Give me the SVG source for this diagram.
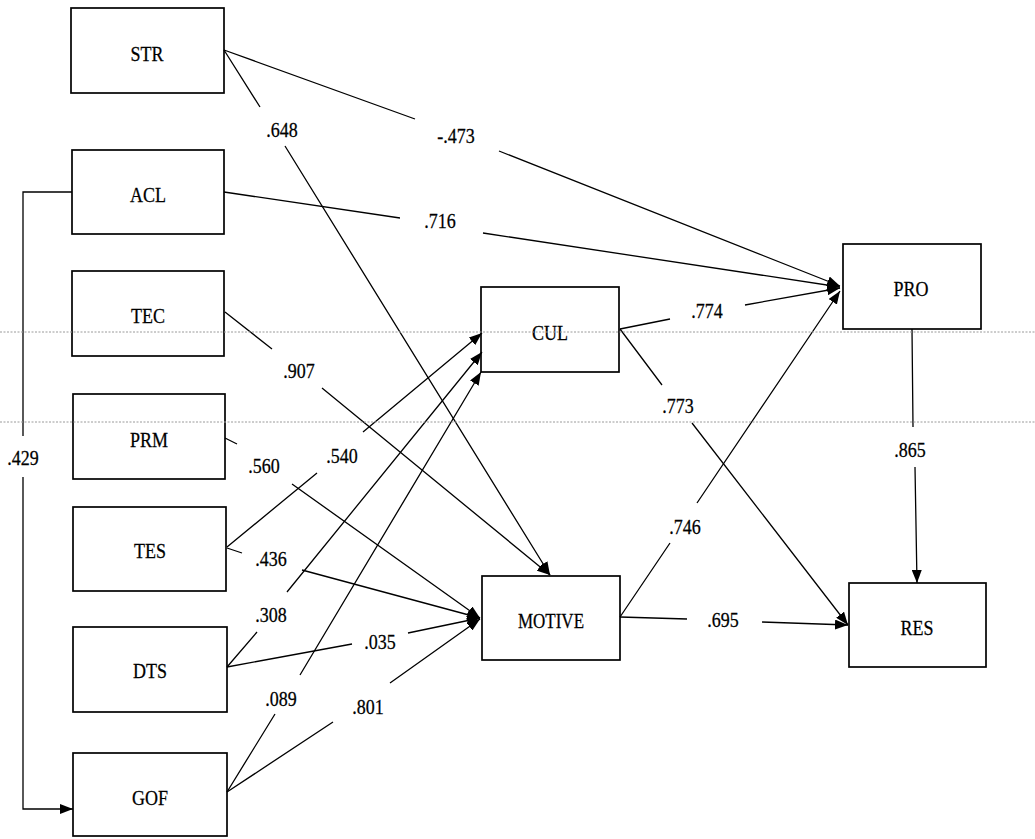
<svg xmlns="http://www.w3.org/2000/svg" width="1035" height="839" viewBox="0 0 1035 839" font-family="'Liberation Serif', 'Times New Roman', Times, serif">
<style>
.box{fill:#fff;stroke:#000;stroke-width:1.7}
text{font-size:20px;fill:#000;stroke:#000;stroke-width:0.25;text-anchor:middle}
.edge{fill:none;stroke:#000;stroke-width:1.3}
.arr{marker-end:url(#ah)}
.scan{stroke:#9a9a9a;stroke-width:1;stroke-dasharray:2,1.5;fill:none}
</style>
<defs>
<marker id="ah" markerUnits="userSpaceOnUse" markerWidth="14" markerHeight="10" refX="13" refY="5" orient="auto">
<path d="M0,0 L13,5 L0,10 z" fill="#000"/>
</marker>
</defs>
<rect width="1035" height="839" fill="#fff"/>
<g id="STR"><rect class="box" x="71" y="8" width="153" height="85"/><text transform="translate(147,61) scale(0.9,1.1)">STR</text></g>
<g id="ACL"><rect class="box" x="72" y="150" width="152" height="84"/><text transform="translate(148,202) scale(0.9,1.1)">ACL</text></g>
<g id="TEC"><rect class="box" x="72" y="271" width="152" height="85"/><text transform="translate(148,323) scale(0.9,1.1)">TEC</text></g>
<g id="PRM"><rect class="box" x="73" y="394" width="152" height="85"/><text transform="translate(149,447) scale(0.9,1.1)">PRM</text></g>
<g id="TES"><rect class="box" x="73" y="507" width="153" height="84"/><text transform="translate(150,558) scale(0.9,1.1)">TES</text></g>
<g id="DTS"><rect class="box" x="73" y="627" width="154" height="85"/><text transform="translate(150,678) scale(0.9,1.1)">DTS</text></g>
<g id="GOF"><rect class="box" x="73" y="753" width="154" height="83"/><text transform="translate(150,805) scale(0.9,1.1)">GOF</text></g>
<g id="CUL"><rect class="box" x="481" y="287" width="138" height="85"/><text transform="translate(550,340) scale(0.9,1.1)">CUL</text></g>
<g id="MOTIVE"><rect class="box" x="482" y="576" width="138" height="84"/><text transform="translate(551,628) scale(0.85,1.1)">MOTIVE</text></g>
<g id="PRO"><rect class="box" x="843" y="244" width="138" height="85"/><text transform="translate(911,296) scale(0.9,1.1)">PRO</text></g>
<g id="RES"><rect class="box" x="849" y="583" width="137" height="84"/><text transform="translate(917,635) scale(0.9,1.1)">RES</text></g>
<g id="connectors">
<path class="edge arr" d="M224,50 L415,119 M499,151 L840,286"/>
<path class="edge arr" d="M224,192 L400,218 M483,233 L840,287"/>
<path class="edge arr" d="M224,50 L260,107 M285,146 L550,575"/>
<path class="edge arr" d="M225,312 L272,349 M322,388 L550,575"/>
<path class="edge arr" d="M225,438 L237,444 M292,484 L480,618"/>
<path class="edge arr" d="M227,547 L317,473 M363,432 L482,333"/>
<path class="edge arr" d="M227,548 L242,553 M302,570 L480,618"/>
<path class="edge arr" d="M227,667 L257,632 M287,592 L482,352"/>
<path class="edge arr" d="M227,667 L352,644 M408,633 L480,618"/>
<path class="edge arr" d="M227,792 L275,714 M300,675 L481,372"/>
<path class="edge arr" d="M227,792 L333,722 M390,683 L480,619"/>
<path class="edge arr" d="M72,192 L23,192 L23,436 M23,477 L23,809 L73,809"/>
<path class="edge arr" d="M620,329 L670,319 M745,305 L840,288"/>
<path class="edge arr" d="M620,329 L662,385 M692,423 L848,625"/>
<path class="edge arr" d="M620,617 L670,543 M697,503 L840,291"/>
<path class="edge arr" d="M620,617 L687,619 M762,622 L848,625"/>
<path class="edge arr" d="M912,329 L913,427 M915,467 L917,583"/>
</g>
<g id="labels">
<text transform="translate(282,137) scale(0.9,1.1)">.648</text>
<text transform="translate(456,143) scale(0.9,1.1)">-.473</text>
<text transform="translate(440,228) scale(0.9,1.1)">.716</text>
<text transform="translate(299,378) scale(0.9,1.1)">.907</text>
<text transform="translate(264,473) scale(0.9,1.1)">.560</text>
<text transform="translate(342,463) scale(0.9,1.1)">.540</text>
<text transform="translate(23,465) scale(0.9,1.1)">.429</text>
<text transform="translate(271,566) scale(0.9,1.1)">.436</text>
<text transform="translate(271,622) scale(0.9,1.1)">.308</text>
<text transform="translate(380,649) scale(0.9,1.1)">.035</text>
<text transform="translate(281,706) scale(0.9,1.1)">.089</text>
<text transform="translate(368,714) scale(0.9,1.1)">.801</text>
<text transform="translate(707,318) scale(0.9,1.1)">.774</text>
<text transform="translate(678,413) scale(0.9,1.1)">.773</text>
<text transform="translate(685,534) scale(0.9,1.1)">.746</text>
<text transform="translate(723,627) scale(0.9,1.1)">.695</text>
<text transform="translate(910,457) scale(0.9,1.1)">.865</text>
</g>
<g id="scan-lines">
<line class="scan" x1="0" y1="332" x2="1035" y2="332"/>
<line class="scan" x1="0" y1="422" x2="1035" y2="422"/>
</g>
</svg>
